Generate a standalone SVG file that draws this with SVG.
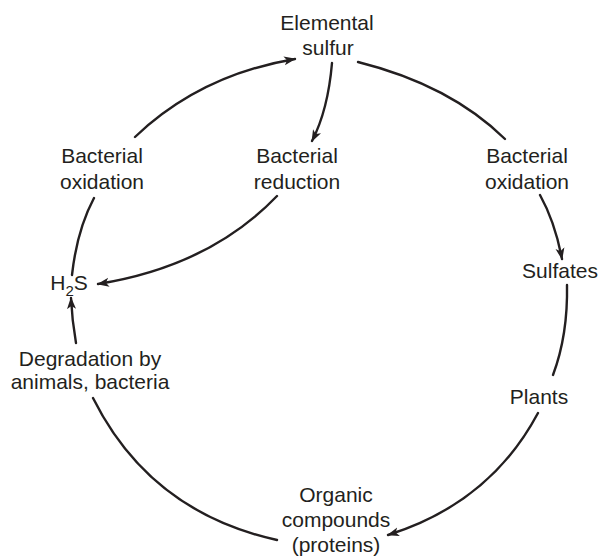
<svg xmlns="http://www.w3.org/2000/svg" width="600" height="557" viewBox="0 0 600 557">
<style>
text{font-family:"Liberation Sans",Arial,sans-serif;font-size:21px;fill:#231f20;text-anchor:middle}
.c{fill:none;stroke:#231f20;stroke-width:2.4;stroke-linecap:round}
</style>
<defs>
<marker id="ah" viewBox="0 0 12 10" refX="11" refY="5" markerWidth="12" markerHeight="10" markerUnits="userSpaceOnUse" orient="auto">
<path d="M0,0.5 L12,5 L0,9.5 L3,5 Z" fill="#231f20"/>
</marker>
</defs>
<rect width="600" height="557" fill="#fff"/>
<g id="connectors">
<path class="c" d="M72 275 Q77 230 94 198"/>
<path class="c" d="M135 137 Q200 75 295 59" marker-end="url(#ah)"/>
<path class="c" d="M358 62 Q450 85 505 139"/>
<path class="c" d="M540 195 Q555 222 562 259" marker-end="url(#ah)"/>
<path class="c" d="M567 285 Q568 335 553 375"/>
<path class="c" d="M538 413 Q490 503 388 535" marker-end="url(#ah)"/>
<path class="c" d="M93 398 Q150 512 277 540"/>
<path class="c" d="M76 343 Q72 320 71 298" marker-end="url(#ah)"/>
<path class="c" d="M332 63 Q328 110 312 141" marker-end="url(#ah)"/>
<path class="c" d="M277 196 Q210 266 98 284" marker-end="url(#ah)"/>
</g>
<g id="elemental-sulfur"><text x="327" y="30">Elemental</text><text x="328" y="55">sulfur</text></g>
<g id="bacterial-oxidation-left"><text x="102" y="163">Bacterial</text><text x="102" y="189">oxidation</text></g>
<g id="bacterial-reduction"><text x="297" y="163">Bacterial</text><text x="297" y="189">reduction</text></g>
<g id="bacterial-oxidation-right"><text x="527" y="163">Bacterial</text><text x="527" y="189">oxidation</text></g>
<g id="sulfates"><text x="560" y="278">Sulfates</text></g>
<g id="h2s"><text x="69" y="290">H<tspan font-size="15" dy="6">2</tspan><tspan dy="-6">S</tspan></text></g>
<g id="degradation"><text x="90" y="366">Degradation by</text><text x="90" y="389">animals, bacteria</text></g>
<g id="plants"><text x="539" y="404">Plants</text></g>
<g id="organic-compounds"><text x="336" y="502">Organic</text><text x="336" y="527">compounds</text><text x="336" y="552">(proteins)</text></g>
</svg>
